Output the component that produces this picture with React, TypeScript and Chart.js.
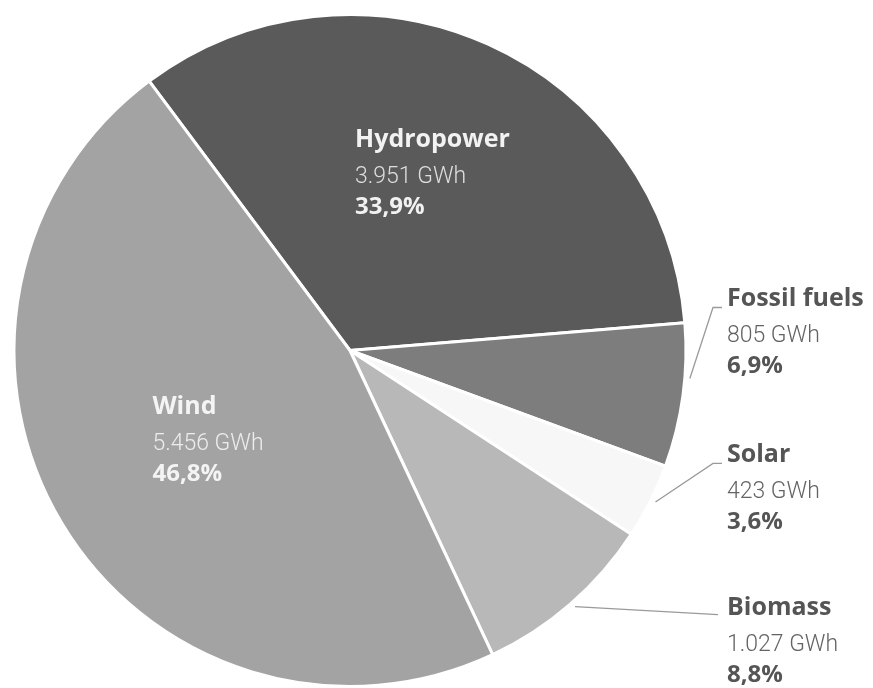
import React, { useEffect, useRef } from "react";
import { Chart, registerables } from "chart.js";

Chart.register(...registerables);

const categories = ["Hydropower", "Fossil fuels", "Solar", "Biomass", "Wind"];
const valuesGWh = [3951, 805, 423, 1027, 5456];
const valueLabels = ["3.951 GWh", "805 GWh", "423 GWh", "1.027 GWh", "5.456 GWh"];
const percentLabels = ["33,9%", "6,9%", "3,6%", "8,8%", "46,8%"];
const colors = ["#5a5a5a", "#7d7d7d", "#f7f7f7", "#b8b8b8", "#a3a3a3"];

// label layout (annotation placement, not data)
const labelLayout = [
  { inside: true, dx: 0.015, dy: -0.607, color: "#f2f2f2", sub: "#dedede" },
  { inside: false, frac: 0.38, ty: -0.131 },
  { inside: false, frac: 0.48, ty: 0.333 },
  { inside: false, frac: 0.49, ty: 0.786 },
  { inside: true, dx: -0.588, dy: 0.19, color: "#f4f4f4", sub: "#ececec" },
];

const BOLD = "'Open Sans', Roboto, sans-serif";
const LIGHT = "Roboto, 'Noto Sans', sans-serif";

const labelPlugin = {
  id: "sliceLabels",
  afterDraw(chart: any) {
    const ctx = chart.ctx;
    const meta = chart.getDatasetMeta(0);
    ctx.save();
    meta.data.forEach((arc: any, i: number) => {
      const { x: cx, y: cy, outerRadius: r, startAngle, endAngle } = arc.getProps(
        ["x", "y", "outerRadius", "startAngle", "endAngle"],
        true
      );
      const L = labelLayout[i];
      let tx: number, ty: number, c1: string, c2: string;
      if (L.inside) {
        tx = cx + (L.dx as number) * r;
        ty = cy + (L.dy as number) * r;
        c1 = L.color as string;
        c2 = L.sub as string;
      } else {
        const a = startAngle + (endAngle - startAngle) * (L.frac as number);
        const sx = cx + Math.cos(a) * (r + 5);
        const sy = cy + Math.sin(a) * (r + 5);
        tx = cx + r * 1.122;
        ty = cy + (L.ty as number) * r;
        ctx.strokeStyle = "#9a9a9a";
        ctx.lineWidth = 1.3;
        ctx.beginPath();
        ctx.moveTo(sx, sy);
        if (i === 3) {
          ctx.lineTo(tx - 9, ty);
        } else {
          ctx.lineTo(tx - 14, ty + 1);
          ctx.lineTo(tx - 5, ty + 1);
        }
        ctx.stroke();
        c1 = "#555555";
        c2 = "#646464";
      }
      ctx.textAlign = "left";
      ctx.textBaseline = "alphabetic";
      ctx.fillStyle = c1;
      ctx.font = `bold 25px ${BOLD}`;
      ctx.fillText(categories[i], tx, ty);
      ctx.fillStyle = c2;
      ctx.font = `300 23px ${LIGHT}`;
      ctx.fillText(valueLabels[i], tx, ty + 36);
      ctx.fillStyle = c1;
      ctx.font = `bold 24px ${BOLD}`;
      ctx.fillText(percentLabels[i], tx, ty + 67);
    });
    ctx.restore();
  },
};

export default function App() {
  const ref = useRef<HTMLCanvasElement>(null);
  useEffect(() => {
    if (!ref.current) return;
    const chart = new Chart(ref.current, {
      type: "pie",
      data: {
        labels: categories,
        datasets: [
          {
            data: valuesGWh,
            backgroundColor: colors,
            borderColor: "#ffffff",
            borderWidth: 3,
            hoverOffset: 0,
          },
        ],
      },
      options: {
        responsive: false,
        animation: false,
        rotation: -36.7,
        layout: { padding: { left: 12, right: 185, top: 13, bottom: -1 } },
        plugins: {
          legend: { display: false },
          tooltip: { enabled: false },
        },
      },
      plugins: [labelPlugin],
    });
    return () => chart.destroy();
  }, []);
  return (
    <div style={{ position: "fixed", left: 0, top: 0, width: 873, height: 688, background: "#fff" }}>
      <canvas ref={ref} width={873} height={688} style={{ display: "block" }} />
    </div>
  );
}
